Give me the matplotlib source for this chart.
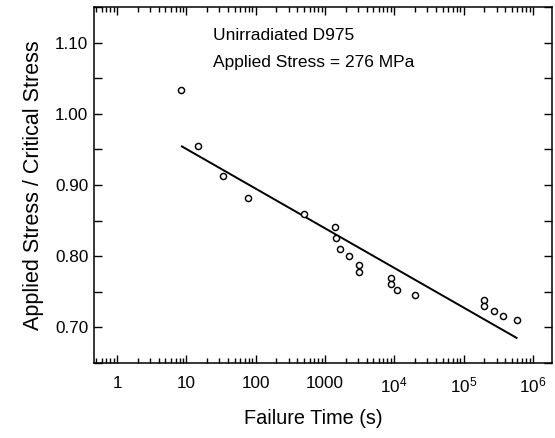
import matplotlib
matplotlib.use("Agg")
import matplotlib.pyplot as plt
from matplotlib.ticker import FixedLocator, FixedFormatter, LogLocator, NullFormatter, MultipleLocator

plt.rcParams['font.family'] = ['Liberation Sans', 'DejaVu Sans']
plt.rcParams['mathtext.fontset'] = 'custom'
plt.rcParams['mathtext.rm'] = 'Liberation Sans'
plt.rcParams['mathtext.it'] = 'Liberation Sans:italic'
plt.rcParams['mathtext.bf'] = 'Liberation Sans:bold'

# Data (failure time in s, stress ratio)
time_s = [8.4, 14.8, 34, 77, 505, 1384, 1462, 1652, 2228, 3074, 3138,
          8900, 8900, 10860, 19950, 195500, 195500, 272800, 368000, 597000]
stress_ratio = [1.034, 0.955, 0.912, 0.882, 0.859, 0.841, 0.825, 0.810, 0.800,
                0.788, 0.778, 0.769, 0.761, 0.7525, 0.7446, 0.7385, 0.730,
                0.7225, 0.716, 0.710]

# Fitted line end points
fit_time = [8.4, 6.0e5]
fit_ratio = [0.955, 0.684]

x_ticks = [1, 10, 100, 1000, 1e4, 1e5, 1e6]
x_tick_labels = ['1', '10', '100', '1000', r'$10^4$', r'$10^5$', r'$10^6$']
y_ticks = [0.70, 0.80, 0.90, 1.00, 1.10]
y_tick_labels = ['0.70', '0.80', '0.90', '1.00', '1.10']

annotation_lines = ['Unirradiated D975', 'Applied Stress = 276 MPa']

fig = plt.figure(figsize=(5.55, 4.38), dpi=100)
ax = fig.add_axes([94/555, 1-363/438, (552-94)/555, (363-7)/438])

ax.plot(fit_time, fit_ratio, color='black', lw=1.4, solid_capstyle='butt')
ax.plot(time_s, stress_ratio, linestyle='none', marker='o', markersize=4.4,
        markerfacecolor='white', markeredgecolor='black', markeredgewidth=1.05)

ax.set_xscale('log')
ax.set_xlim(10**(-23/69.3), 10**((552-117)/69.3))
ax.set_ylim(0.6493, 1.1507)

ax.xaxis.set_major_locator(FixedLocator(x_ticks))
ax.xaxis.set_major_formatter(FixedFormatter(x_tick_labels))
ax.xaxis.set_minor_locator(LogLocator(base=10, subs=range(2, 10), numticks=20))
ax.xaxis.set_minor_formatter(NullFormatter())
ax.yaxis.set_major_locator(FixedLocator(y_ticks))
ax.yaxis.set_major_formatter(FixedFormatter(y_tick_labels))
ax.yaxis.set_minor_locator(MultipleLocator(0.05))

ax.tick_params(axis='both', which='both', direction='in', top=True, right=True,
               width=1.0, colors='black', labelsize=12.3)
ax.tick_params(axis='x', which='major', length=6, pad=9)
ax.tick_params(axis='x', which='minor', length=3.5)
ax.tick_params(axis='y', which='both', length=6, pad=4)

for s in ax.spines.values():
    s.set_linewidth(1.1)

ax.set_xlabel('Failure Time (s)', fontsize=14.3)
ax.xaxis.set_label_coords(0.478, -0.13)
ax.set_ylabel('Applied Stress / Critical Stress', fontsize=15.5, labelpad=8)

ax.text((213-94)/458, 1-(36-7)/356, annotation_lines[0], transform=ax.transAxes,
        fontsize=12.5, ha='left', va='center')
ax.text((213-94)/458, 1-(62-7)/356, annotation_lines[1], transform=ax.transAxes,
        fontsize=12.5, ha='left', va='center')

fig.savefig('out.png', dpi=100)
